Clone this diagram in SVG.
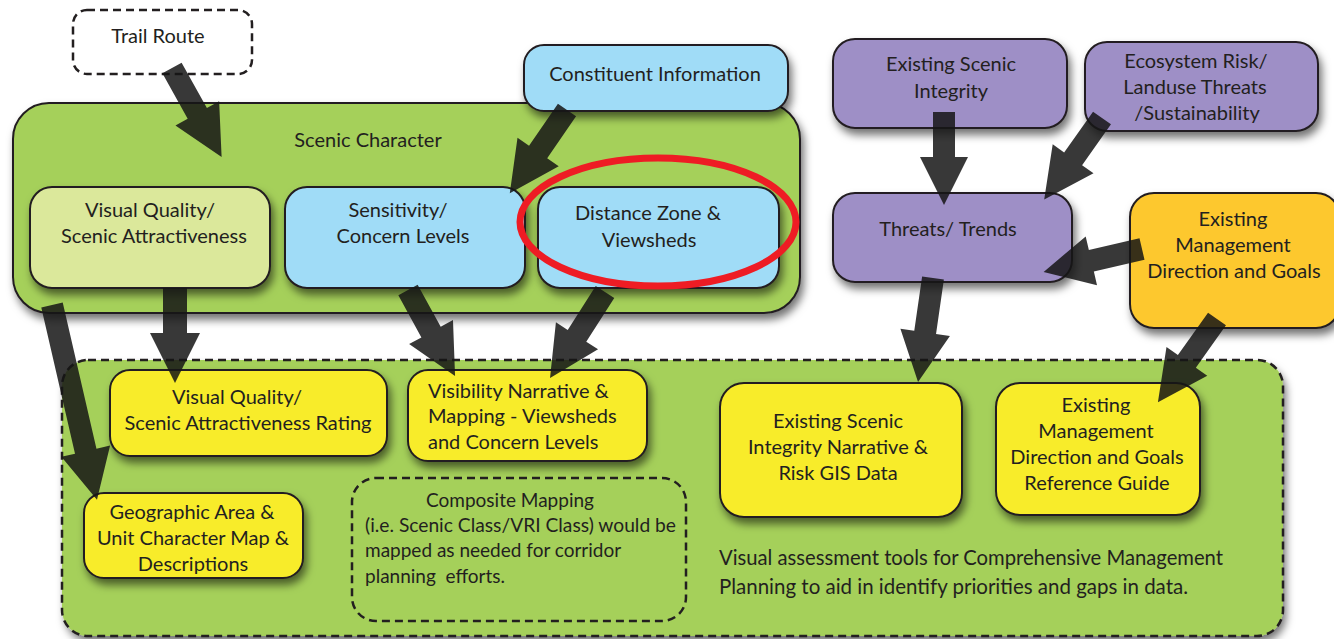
<svg xmlns="http://www.w3.org/2000/svg" width="1334" height="639" viewBox="0 0 1334 639">
<defs>
<filter id="sh" x="-20%" y="-20%" width="150%" height="160%">
<feDropShadow dx="3" dy="6" stdDeviation="4" flood-color="#000" flood-opacity="0.55"/>
</filter>
<style>
.t{font-family:Lato,"Open Sans","Liberation Sans",sans-serif;font-size:20px;fill:#231f20;text-anchor:middle}
.l{text-anchor:start}
.box{stroke:#231f20;stroke-width:2}
.dash{fill:none;stroke:#231f20;stroke-width:2.5;stroke-dasharray:8 5}
.green{fill:#a5d05a}
.lg{fill:#dbe89b}
.blue{fill:#a0dcf7}
.pur{fill:#9e8fc6}
.org{fill:#fdc82e}
.yel{fill:#f8ec2c}
.arr{fill:#151515;fill-opacity:0.85}
</style>
</defs>

<g id="bottom-panel">
<rect x="62" y="360" width="1221" height="276" rx="26" class="green" filter="url(#sh)"/>
<rect x="62" y="360" width="1221" height="276" rx="26" class="dash"/>
<text class="t l" x="719" y="565" style="font-size:21px" textLength="504" lengthAdjust="spacingAndGlyphs">Visual assessment tools for Comprehensive Management</text>
<text class="t l" x="719" y="594" style="font-size:21px" textLength="469" lengthAdjust="spacingAndGlyphs">Planning to aid in identify priorities and gaps in data.</text>
</g>

<g id="trail-route">
<rect x="73" y="10" width="179" height="64" rx="14" fill="#fff" class="dash"/>
<text class="t" x="158" y="43">Trail Route</text>
</g>

<g id="scenic-character">
<rect x="13" y="103" width="787" height="210" rx="36" class="green box" filter="url(#sh)"/>
<text class="t" x="368" y="147">Scenic Character</text>
</g>

<g id="visual-quality">
<rect x="30" y="187" width="240" height="101" rx="22" class="lg box" filter="url(#sh)"/>
<text class="t" x="150" y="217">Visual Quality/</text>
<text class="t" x="154" y="243">Scenic Attractiveness</text>
</g>

<g id="sensitivity">
<rect x="285" y="187" width="240" height="101" rx="22" class="blue box" filter="url(#sh)"/>
<text class="t" x="398" y="217">Sensitivity/</text>
<text class="t" x="403" y="243">Concern Levels</text>
</g>

<g id="distance-zone">
<rect x="538" y="187" width="241" height="101" rx="22" class="blue box" filter="url(#sh)"/>
<text class="t" x="648" y="220">Distance Zone &amp;</text>
<text class="t" x="649" y="247">Viewsheds</text>
</g>

<g id="constituent-information">
<rect x="524" y="45" width="264" height="66" rx="20" class="blue box" filter="url(#sh)"/>
<text class="t" x="655" y="81">Constituent Information</text>
</g>

<g id="existing-scenic-integrity">
<rect x="833" y="39" width="234" height="89" rx="22" class="pur box" filter="url(#sh)"/>
<text class="t" x="951" y="71">Existing Scenic</text>
<text class="t" x="951" y="98">Integrity</text>
</g>

<g id="ecosystem-risk">
<rect x="1085" y="42" width="233" height="89" rx="22" class="pur box" filter="url(#sh)"/>
<text class="t" x="1196" y="68">Ecosystem Risk/</text>
<text class="t" x="1195" y="94">Landuse Threats</text>
<text class="t" x="1197" y="120">/Sustainability</text>
</g>

<g id="threats-trends">
<rect x="833" y="193" width="239" height="89" rx="22" class="pur box" filter="url(#sh)"/>
<text class="t" x="948" y="236">Threats/ Trends</text>
</g>

<g id="existing-management">
<rect x="1130" y="193" width="210" height="135" rx="24" class="org box" filter="url(#sh)"/>
<text class="t" x="1233" y="226">Existing</text>
<text class="t" x="1233" y="252">Management</text>
<text class="t" x="1234" y="278">Direction and Goals</text>
</g>

<g id="vq-rating">
<rect x="110" y="370" width="277" height="86" rx="20" class="yel box" filter="url(#sh)"/>
<text class="t" x="237" y="404">Visual Quality/</text>
<text class="t" x="248" y="430">Scenic Attractiveness Rating</text>
</g>

<g id="visibility-narrative">
<rect x="408" y="370" width="239" height="91" rx="20" class="yel box" filter="url(#sh)"/>
<text class="t l" x="428" y="398">Visibility Narrative &amp;</text>
<text class="t l" x="428" y="423">Mapping - Viewsheds</text>
<text class="t l" x="428" y="449">and Concern Levels</text>
</g>

<g id="geographic-area">
<rect x="84" y="493" width="219" height="85" rx="20" class="yel box" filter="url(#sh)"/>
<text class="t" x="192" y="519">Geographic Area &amp;</text>
<text class="t" x="193" y="545">Unit Character Map &amp;</text>
<text class="t" x="193" y="571">Descriptions</text>
</g>

<g id="composite-mapping">
<rect x="352" y="478" width="334" height="143" rx="24" class="dash"/>
<text class="t" x="510" y="507" style="font-size:19px">Composite Mapping</text>
<text class="t l" x="365" y="532" style="font-size:19px" textLength="311" lengthAdjust="spacingAndGlyphs">(i.e. Scenic Class/VRI Class) would be</text>
<text class="t l" x="365" y="557" style="font-size:19px">mapped as needed for corridor</text>
<text class="t l" x="365" y="583" style="font-size:19px;white-space:pre">planning  efforts.</text>
</g>

<g id="esi-narrative">
<rect x="720" y="383" width="242" height="134" rx="24" class="yel box" filter="url(#sh)"/>
<text class="t" x="838" y="428">Existing Scenic</text>
<text class="t" x="838" y="454">Integrity Narrative &amp;</text>
<text class="t" x="838" y="480">Risk GIS Data</text>
</g>

<g id="reference-guide">
<rect x="996" y="383" width="204" height="132" rx="24" class="yel box" filter="url(#sh)"/>
<text class="t" x="1096" y="412">Existing</text>
<text class="t" x="1096" y="438">Management</text>
<text class="t" x="1097" y="464">Direction and Goals</text>
<text class="t" x="1097" y="490">Reference Guide</text>
</g>

<g id="connectors">
<path class="arr" d="M0,-11 H52 V-25 L102,0 L52,25 V11 H0 Z" transform="translate(172,68) rotate(60.9)"/>
<path class="arr" d="M0,-11 H51 V-25 L101,0 L51,25 V11 H0 Z" transform="translate(567,110) rotate(124.5)"/>
<path class="arr" d="M0,-12 H45 V-25 L95,0 L45,25 V12 H0 Z" transform="translate(175,288) rotate(90)"/>
<path class="arr" d="M0,-11 H150 V-25 L200,0 L150,25 V11 H0 Z" transform="translate(52,305) rotate(77)"/>
<path class="arr" d="M0,-11 H48 V-25 L98,0 L48,25 V11 H0 Z" transform="translate(408,290) rotate(61.3)"/>
<path class="arr" d="M0,-11 H52 V-25 L102,0 L52,25 V11 H0 Z" transform="translate(605,292) rotate(122.6)"/>
<path class="arr" d="M0,-11 H45 V-24 L93,0 L45,24 V11 H0 Z" transform="translate(944,112) rotate(90)"/>
<path class="arr" d="M0,-11 H50 V-25 L100,0 L50,25 V11 H0 Z" transform="translate(1102,118) rotate(125.3)"/>
<path class="arr" d="M0,-11 H52 V-25 L101,0 L52,25 V11 H0 Z" transform="translate(1142,249) rotate(166.9)"/>
<path class="arr" d="M0,-11 H55 V-25 L105,0 L55,25 V11 H0 Z" transform="translate(933,278) rotate(98.2)"/>
<path class="arr" d="M0,-11 H52 V-25 L102,0 L52,25 V11 H0 Z" transform="translate(1217,319) rotate(125.4)"/>
</g>

<g id="highlight">
<ellipse cx="658" cy="222" rx="138" ry="64" fill="none" stroke="#ee1c24" stroke-width="7"/>
</g>
</svg>
